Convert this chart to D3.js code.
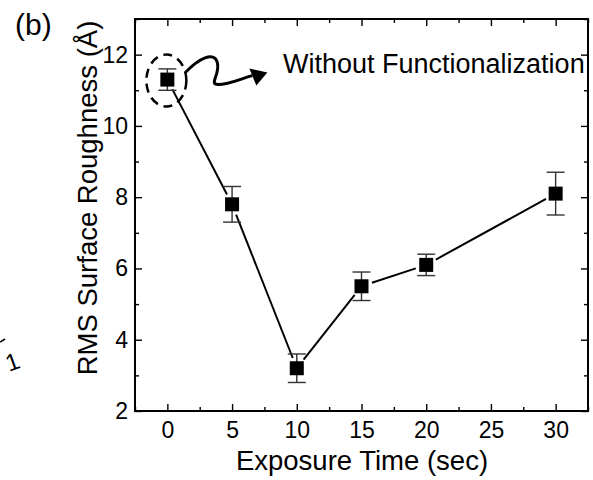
<!DOCTYPE html>
<html>
<head>
<meta charset="utf-8">
<script src="https://cdn.jsdelivr.net/npm/d3@7"></script>
<style>
  body { margin: 0; background: #fff; }
  svg { display: block; font-family: "Liberation Sans", Arial, sans-serif; }
</style>
</head>
<body>
<script>
'use strict';

// exposure time (sec) vs RMS roughness (Å)
const times = [0, 5, 10, 15, 20, 30];
const roughness = [11.3, 7.8, 3.2, 5.5, 6.1, 8.1];
const errors = [0.3, 0.5, 0.4, 0.4, 0.3, 0.6];

const xTicks = [0, 5, 10, 15, 20, 25, 30];
const xMinor = [-2.5, 2.5, 7.5, 12.5, 17.5, 22.5, 27.5, 32.5];
const yTicks = [2, 4, 6, 8, 10, 12];
const yMinor = [3, 5, 7, 9, 11, 13];

const annotation = "Without Functionalization";

(function() {
  const W = 593, H = 480;
  const box = { left: 135, right: 588, top: 19, bottom: 411 };

  const svg = d3.select('body').append('svg')
    .attr('width', W)
    .attr('height', H);

  const x = d3.scaleLinear().domain([-2.5, 32.5]).range([box.left, box.right]);
  const y = d3.scaleLinear().domain([2, 13]).range([box.bottom, box.top]);

  const data = times.map((t, i) => ({ t: t, v: roughness[i], e: errors[i] }));

  // axes: major + minor ticks pointing inward
  function axisGroup(axis, transform) {
    const g = svg.append('g').attr('transform', transform).call(axis);
    g.select('.domain').remove();
    g.selectAll('.tick line').attr('stroke', '#000').attr('stroke-width', 1.4);
    g.selectAll('text').attr('fill', '#000').style('font-size', '23px').style('font-family', null);
    return g;
  }

  axisGroup(d3.axisBottom(x).tickValues(xTicks).tickSizeInner(-7).tickSizeOuter(0).tickPadding(11),
    `translate(0,${box.bottom})`);
  axisGroup(d3.axisBottom(x).tickValues(xMinor).tickSizeInner(-4).tickSizeOuter(0).tickFormat(''),
    `translate(0,${box.bottom})`);
  axisGroup(d3.axisTop(x).tickValues(xTicks).tickSizeInner(-7).tickSizeOuter(0).tickFormat(''),
    `translate(0,${box.top})`);
  axisGroup(d3.axisTop(x).tickValues(xMinor).tickSizeInner(-4).tickSizeOuter(0).tickFormat(''),
    `translate(0,${box.top})`);

  axisGroup(d3.axisLeft(y).tickValues(yTicks).tickSizeInner(-7).tickSizeOuter(0).tickPadding(7),
    `translate(${box.left},0)`);
  axisGroup(d3.axisLeft(y).tickValues(yMinor).tickSizeInner(-4).tickSizeOuter(0).tickFormat(''),
    `translate(${box.left},0)`);
  axisGroup(d3.axisRight(y).tickValues(yTicks).tickSizeInner(-7).tickSizeOuter(0).tickFormat(''),
    `translate(${box.right},0)`);
  axisGroup(d3.axisRight(y).tickValues(yMinor).tickSizeInner(-4).tickSizeOuter(0).tickFormat(''),
    `translate(${box.right},0)`);

  // frame
  svg.append('rect')
    .attr('x', box.left)
    .attr('y', box.top)
    .attr('width', box.right - box.left)
    .attr('height', box.bottom - box.top)
    .attr('fill', 'none')
    .attr('stroke', '#000')
    .attr('stroke-width', 2);

  // connecting line, with a gap near each marker
  const gap = 11;
  const segs = d3.pairs(data).map(([a, b]) => {
    const x1 = x(a.t), y1 = y(a.v), x2 = x(b.t), y2 = y(b.v);
    const len = Math.hypot(x2 - x1, y2 - y1);
    const ux = (x2 - x1) / len, uy = (y2 - y1) / len;
    return { x1: x1 + ux * gap, y1: y1 + uy * gap, x2: x2 - ux * gap, y2: y2 - uy * gap };
  });
  svg.append('g').selectAll('line')
    .data(segs)
    .join('line')
    .attr('x1', d => d.x1).attr('y1', d => d.y1)
    .attr('x2', d => d.x2).attr('y2', d => d.y2)
    .attr('stroke', '#000')
    .attr('stroke-width', 2);

  // error bars
  const eb = svg.append('g').attr('stroke', '#333').attr('stroke-width', 1.4);
  eb.selectAll('.stem').data(data).join('line')
    .attr('x1', d => x(d.t)).attr('x2', d => x(d.t))
    .attr('y1', d => y(d.v - d.e)).attr('y2', d => y(d.v + d.e));
  eb.selectAll('.capT').data(data).join('line')
    .attr('x1', d => x(d.t) - 9).attr('x2', d => x(d.t) + 9)
    .attr('y1', d => y(d.v + d.e)).attr('y2', d => y(d.v + d.e));
  eb.selectAll('.capB').data(data).join('line')
    .attr('x1', d => x(d.t) - 9).attr('x2', d => x(d.t) + 9)
    .attr('y1', d => y(d.v - d.e)).attr('y2', d => y(d.v - d.e));

  // square markers
  const ms = 14;
  svg.append('g').selectAll('rect')
    .data(data)
    .join('rect')
    .attr('x', d => x(d.t) - ms / 2)
    .attr('y', d => y(d.v) - ms / 2)
    .attr('width', ms)
    .attr('height', ms)
    .attr('fill', '#000');

  // annotation: dashed ellipse around first point + wavy arrow
  const cx = x(data[0].t) - 1, cy = y(data[0].v) + 1;
  svg.append('ellipse')
    .attr('cx', cx).attr('cy', cy)
    .attr('rx', 20).attr('ry', 26)
    .attr('fill', 'none')
    .attr('stroke', '#000')
    .attr('stroke-width', 2.5)
    .attr('stroke-dasharray', '9,6');

  const ax = cx, ay = cy;
  svg.append('path')
    .attr('d', `M${ax + 19},${ay - 8} C${ax + 32},${ay - 22} ${ax + 48},${ay - 30} ${ax + 51},${ay - 18}
                C${ax + 54},${ay - 6} ${ax + 42},${ay + 4} ${ax + 52},${ay + 4}
                C${ax + 62},${ay + 4} ${ax + 75},${ay - 2} ${ax + 86},${ay - 5}`)
    .attr('fill', 'none')
    .attr('stroke', '#000')
    .attr('stroke-width', 3);
  svg.append('path')
    .attr('d', `M${ax + 83},${ay - 12} L${ax + 101},${ay - 8} L${ax + 90},${ay + 5} Z`)
    .attr('fill', '#000');

  svg.append('text')
    .attr('x', 283)
    .attr('y', 73)
    .style('font-size', '27px')
    .text(annotation);

  // axis titles
  svg.append('text')
    .attr('x', 362)
    .attr('y', 470)
    .attr('text-anchor', 'middle')
    .style('font-size', '27.5px')
    .text('Exposure Time (sec)');

  svg.append('text')
    .attr('transform', 'translate(97,198)rotate(-90)')
    .attr('text-anchor', 'middle')
    .style('font-size', '27.5px')
    .text('RMS Surface Roughness (Å)');

  // panel label
  svg.append('text')
    .attr('x', 15)
    .attr('y', 35)
    .style('font-size', '30px')
    .text('(b)');

  // fragment of the neighbouring panel at the left edge
  svg.append('line')
    .attr('x1', 0).attr('y1', 342)
    .attr('x2', 5).attr('y2', 339)
    .attr('stroke', '#000')
    .attr('stroke-width', 1.5);
  svg.append('text')
    .attr('transform', 'translate(9,372)rotate(-20)')
    .style('font-size', '24px')
    .text('1');
})();
</script>
</body>
</html>
